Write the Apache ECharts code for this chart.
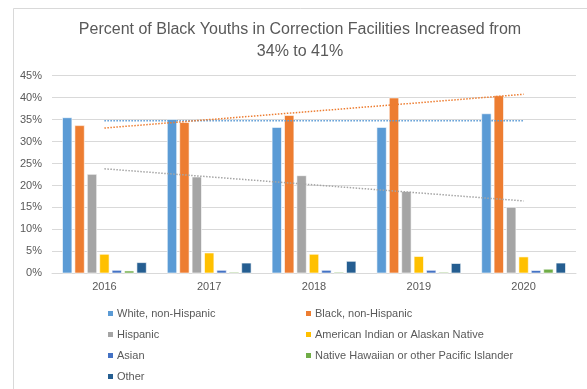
<!DOCTYPE html>
<html><head><meta charset="utf-8">
<script src="https://cdn.jsdelivr.net/npm/echarts@6/dist/echarts.min.js"></script>
<style>html,body{margin:0;padding:0;background:#fff}#c{width:587px;height:389px}</style>
</head><body><div id="c"></div>
<script>
const years = ['2016','2017','2018','2019','2020'];
const white    = [35.5, 35.1, 33.3, 33.3, 36.4];
const black    = [33.7, 34.4, 36.0, 40.0, 40.5];
const hispanic = [22.6, 22.0, 22.3, 18.7, 15.1];
const amind    = [4.4, 4.7, 4.4, 3.9, 3.8];
const asian    = [0.75, 0.75, 0.75, 0.75, 0.7];
const nhpi     = [0.6, 0.3, 0.3, 0.3, 1.0];
const other    = [2.5, 2.4, 2.8, 2.3, 2.4];
const yTicks = [0,5,10,15,20,25,30,35,40,45];
const titleLines = ['Percent of Black Youths in Correction Facilities Increased from', '34% to 41%'];

function trend(vals){
  const n = vals.length;
  const xm = (n-1)/2;
  const ym = vals.reduce((a,b)=>a+b,0)/n;
  let sxy=0, sxx=0;
  vals.forEach((v,i)=>{sxy+=(i-xm)*(v-ym); sxx+=(i-xm)*(i-xm);});
  const b = sxy/sxx;
  return vals.map((v,i)=> +(ym + b*(i-xm)).toFixed(3));
}

const font = 'Liberation Sans';
const txt = '#595959';
const bars = [
  ['White, non-Hispanic', white, '#5B9BD5'],
  ['Black, non-Hispanic', black, '#ED7D31'],
  ['Hispanic', hispanic, '#A5A5A5'],
  ['American Indian or Alaskan Native', amind, '#FFC000'],
  ['Asian', asian, '#4472C4'],
  ['Native Hawaiian or other Pacific Islander', nhpi, '#70AD47'],
  ['Other', other, '#255E91']
];
const series = bars.map(([name, data, color]) => ({
  name, type:'bar', data, barWidth:10, barGap:'24%',
  itemStyle:{color, borderColor:'#fff', borderWidth:0.6}
}));
[[white,'#5B9BD5'],[black,'#ED7D31'],[hispanic,'#A5A5A5']].forEach(([d,c],i)=>{
  series.push({name:'trend'+i, type:'line', data:trend(d), symbol:'none', silent:true,
    lineStyle:{color:c, width:1.5, type:[1.5,1.5]}, z:5});
});

const chart = echarts.init(document.getElementById('c'), null, {renderer:'canvas'});
chart.setOption({
  animation:false,
  backgroundColor:'#fff',
  textStyle:{fontFamily:font},
  graphic:[
    {type:'rect', shape:{x:13.5, y:8.5, width:700, height:500}, style:{fill:'none', stroke:'#D9D9D9', lineWidth:1}, silent:true},
    {type:'text', x:300, y:30, style:{text:titleLines[0], fill:txt, font:'16px "Liberation Sans"', textAlign:'center', textVerticalAlign:'middle'}, silent:true},
    {type:'text', x:300, y:52, style:{text:titleLines[1], fill:txt, font:'16px "Liberation Sans"', textAlign:'center', textVerticalAlign:'middle'}, silent:true}
  ],
  grid:{left:52, right:11, top:75.7, bottom:115.7, containLabel:false},
  xAxis:{type:'category', data:years, boundaryGap:true,
    axisLine:{lineStyle:{color:'#D9D9D9'}}, axisTick:{show:false},
    axisLabel:{color:txt, fontSize:11, fontFamily:font, margin:8}},
  yAxis:{type:'value', min:0, max:45, interval:5,
    axisLine:{show:false}, axisTick:{show:false},
    splitLine:{lineStyle:{color:'#D9D9D9'}},
    axisLabel:{color:txt, fontSize:11, fontFamily:font, formatter:v=>v+'%', margin:10}},
  legend:[
    {data:['White, non-Hispanic','Hispanic','Asian','Other'], orient:'vertical', left:101, top:303,
     itemWidth:7, itemHeight:7, itemGap:10, icon:'rect',
     textStyle:{color:txt, fontSize:11, fontFamily:font, padding:[0,0,0,-2]}},
    {data:['Black, non-Hispanic','American Indian or Alaskan Native','Native Hawaiian or other Pacific Islander'], orient:'vertical', left:299, top:303,
     itemWidth:7, itemHeight:7, itemGap:10, icon:'rect',
     textStyle:{color:txt, fontSize:11, fontFamily:font, padding:[0,0,0,-2]}}
  ],
  series
});
</script></body></html>
